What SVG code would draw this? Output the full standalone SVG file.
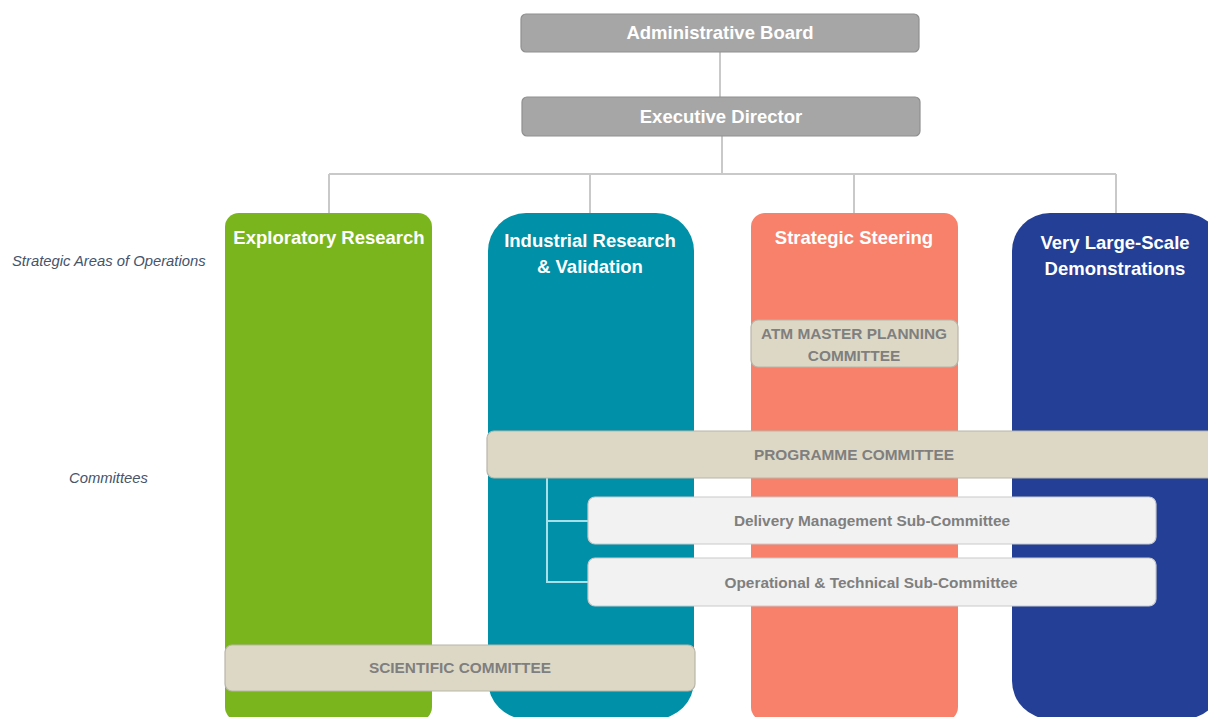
<svg xmlns="http://www.w3.org/2000/svg" width="1208" height="717" viewBox="0 0 1208 717">
<style>
.top{fill:#a6a6a6;stroke:#8f8f8f;stroke-width:1.2}
.toptx{font-family:"Liberation Sans",Arial,sans-serif;font-weight:bold;font-size:18.5px;fill:#ffffff;text-anchor:middle}
.coltx{font-family:"Liberation Sans",Arial,sans-serif;font-weight:bold;font-size:18.5px;fill:#ffffff;text-anchor:middle}
.cream{fill:#ddd8c5;stroke:#b8b5a8;stroke-width:1.2}
.light{fill:#f2f2f2;stroke:#c9c9c9;stroke-width:1.2}
.ctx{font-family:"Liberation Sans",Arial,sans-serif;font-weight:bold;font-size:15.4px;fill:#7f7f7f;text-anchor:middle}
.side{font-family:"Liberation Sans",Arial,sans-serif;font-style:italic;font-size:14.8px;fill:#44546a}
.conn{stroke:#c9c9c9;stroke-width:2;fill:none}
.sub{stroke:#a6e0ea;stroke-width:2;fill:none}
</style>
<rect width="1208" height="717" fill="#ffffff"/>
<g id="connectors">
<line class="conn" x1="720" y1="52" x2="720" y2="97"/>
<line class="conn" x1="722" y1="136" x2="722" y2="174"/>
<line class="conn" x1="329" y1="174" x2="1116" y2="174"/>
<line class="conn" x1="329" y1="174" x2="329" y2="213"/>
<line class="conn" x1="590" y1="174" x2="590" y2="213"/>
<line class="conn" x1="854" y1="174" x2="854" y2="213"/>
<line class="conn" x1="1116" y1="174" x2="1116" y2="213"/>
</g>
<g id="admin-board">
<rect class="top" x="521" y="14" width="398" height="38" rx="5"/>
<text class="toptx" x="720" y="39">Administrative Board</text>
</g>
<g id="executive-director">
<rect class="top" x="522" y="97" width="398" height="39" rx="5"/>
<text class="toptx" x="721" y="123">Executive Director</text>
</g>
<g id="labels">
<text class="side" x="12" y="266">Strategic Areas of Operations</text>
<text class="side" x="69" y="483">Committees</text>
</g>
<g id="col-exploratory">
<rect x="225" y="213" width="207" height="508" rx="14" fill="#7ab51e"/>
<text class="coltx" x="329" y="244">Exploratory Research</text>
</g>
<g id="col-industrial">
<rect x="488" y="213" width="206" height="506" rx="38" fill="#0090a7"/>
<text class="coltx" x="590" y="247">Industrial Research</text>
<text class="coltx" x="590" y="273">&amp; Validation</text>
</g>
<g id="col-strategic">
<rect x="751" y="213" width="207" height="508" rx="14" fill="#f7816a"/>
<text class="coltx" x="854" y="244">Strategic Steering</text>
</g>
<g id="col-vlsd">
<rect x="1012" y="213" width="210" height="506" rx="38" fill="#233f96"/>
<text class="coltx" x="1115" y="249">Very Large-Scale</text>
<text class="coltx" x="1115" y="275">Demonstrations</text>
</g>
<g id="atm-master-planning">
<rect class="cream" x="751" y="320" width="207" height="47" rx="7"/>
<text class="ctx" x="854" y="339">ATM MASTER PLANNING</text>
<text class="ctx" x="854" y="361">COMMITTEE</text>
</g>
<g id="sub-connectors">
<polyline class="sub" points="547,478 547,582 588,582"/>
<line class="sub" x1="547" y1="521" x2="588" y2="521"/>
</g>
<g id="programme-committee">
<rect class="cream" x="487" y="431" width="735" height="47" rx="7"/>
<text class="ctx" x="854" y="460">PROGRAMME COMMITTEE</text>
</g>
<g id="delivery-management">
<rect class="light" x="588" y="497" width="568" height="47" rx="7"/>
<text class="ctx" x="872" y="526">Delivery Management Sub-Committee</text>
</g>
<g id="operational-technical">
<rect class="light" x="588" y="558" width="568" height="48" rx="7"/>
<text class="ctx" x="871" y="588">Operational &amp; Technical Sub-Committee</text>
</g>
<g id="scientific-committee">
<rect class="cream" x="225" y="645" width="470" height="46" rx="7"/>
<text class="ctx" x="460" y="673">SCIENTIFIC COMMITTEE</text>
</g>
</svg>
